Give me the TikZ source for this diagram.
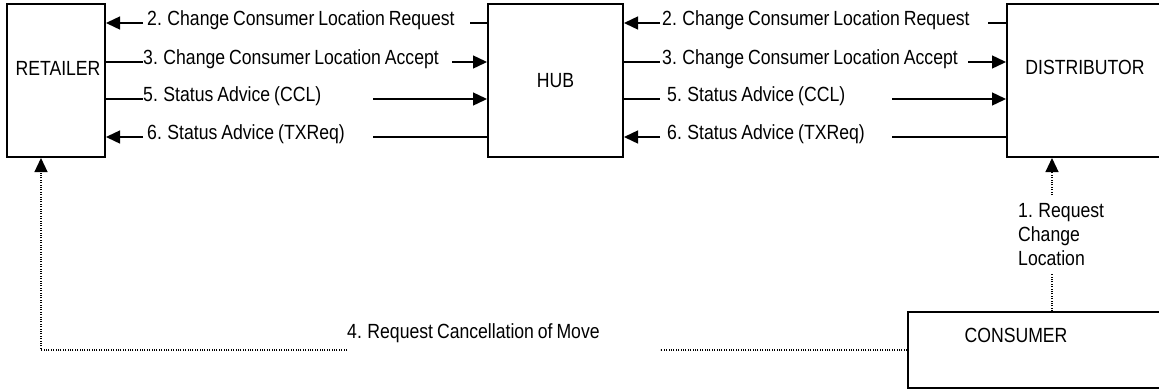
\documentclass[tikz,border=0pt]{standalone}
\usepackage{fontspec}
\setmainfont{Liberation Sans}[FakeStretch=0.86,WordSpace=0.8]
\usetikzlibrary{arrows.meta}
\begin{document}
\begin{tikzpicture}[x=1pt,y=-1pt,
  box/.style={draw, line width=2pt, inner sep=0pt},
  thinbox/.style={draw, line width=1.6pt, inner sep=0pt},
  lbl/.style={font=\fontsize{20.5}{24}\selectfont, inner sep=0pt},
  msg/.style={line width=1.4pt},
  tip/.style={-{Triangle[length=14pt,width=13pt]}},
  dotline/.style={line width=1.1pt, dash pattern=on 1.1pt off 1.3pt},
]
\useasboundingbox (0,0) rectangle (1159,389);
\clip (0,0) rectangle (1159,389);

% boxes
\node[box, minimum width=98pt, minimum height=153pt] (ret) at (56,80.5) {};
\node[box, minimum width=135pt, minimum height=153pt] (hub) at (555.5,80.5) {};
\node[box, minimum width=163pt, minimum height=153pt] (dist) at (1088.5,80.5) {};
\node[thinbox, minimum width=262pt, minimum height=76pt] (cons) at (1039,350) {};

\node[lbl, anchor=base] (retT) at (58,75.5) {RETAILER};
\node[lbl, anchor=base] (hubT) at (555.5,87.5) {HUB};
\node[lbl, anchor=base] (distT) at (1085,74) {DISTRIBUTOR};
\node[lbl, anchor=base] (consT) at (1016,342) {CONSUMER};

% left messages
\draw[msg,tip] (143,23) -- (ret.east |- 0,23);
\node[lbl, anchor=base west] (l2) at (147,25) {2. Change Consumer Location Request};
\draw[msg] (470,23) -- (hub.west |- 0,23);

\draw[msg] (ret.east |- 0,62) -- (143,62);
\node[lbl, anchor=base west] (l3) at (143,64) {3. Change Consumer Location Accept};
\draw[msg,tip] (452,62) -- (hub.west |- 0,62);

\draw[msg] (ret.east |- 0,99) -- (143,99);
\node[lbl, anchor=base west] (l5) at (143,101) {5. Status Advice (CCL)};
\draw[msg,tip] (373,99) -- (hub.west |- 0,99);

\draw[msg,tip] (143,137) -- (ret.east |- 0,137);
\node[lbl, anchor=base west] (l6) at (147,139) {6. Status Advice (TXReq)};
\draw[msg] (373,137) -- (hub.west |- 0,137);

% right messages
\draw[msg,tip] (660,23) -- (hub.east |- 0,23);
\node[lbl, anchor=base west] (r2) at (662,25) {2. Change Consumer Location Request};
\draw[msg] (988,23) -- (dist.west |- 0,23);

\draw[msg] (hub.east |- 0,62) -- (660,62);
\node[lbl, anchor=base west] (r3) at (662,64) {3. Change Consumer Location Accept};
\draw[msg,tip] (968,62) -- (dist.west |- 0,62);

\draw[msg] (hub.east |- 0,99) -- (660,99);
\node[lbl, anchor=base west] (r5) at (667,101) {5. Status Advice (CCL)};
\draw[msg,tip] (892,99) -- (dist.west |- 0,99);

\draw[msg,tip] (660,137) -- (hub.east |- 0,137);
\node[lbl, anchor=base west] (r6) at (667,139) {6. Status Advice (TXReq)};
\draw[msg] (892,137) -- (dist.west |- 0,137);

% consumer -> distributor
\draw[dotline] (cons.north -| 1052,0) -- (1052,274);
\node[lbl, align=left, anchor=base west] (c1) at (1018,265) {1. Request\\Change\\Location};
\draw[dotline,tip] (1052,195) -- (dist.south -| 1052,0);

% consumer -> retailer
\draw[dotline] (cons.west) -- (660,350);
\node[lbl, anchor=base west] (c4) at (347,338) {4. Request Cancellation of Move};
\draw[dotline,tip] (347,350) -- (41,350) -- (ret.south -| 41,0);
\end{tikzpicture}
\end{document}
